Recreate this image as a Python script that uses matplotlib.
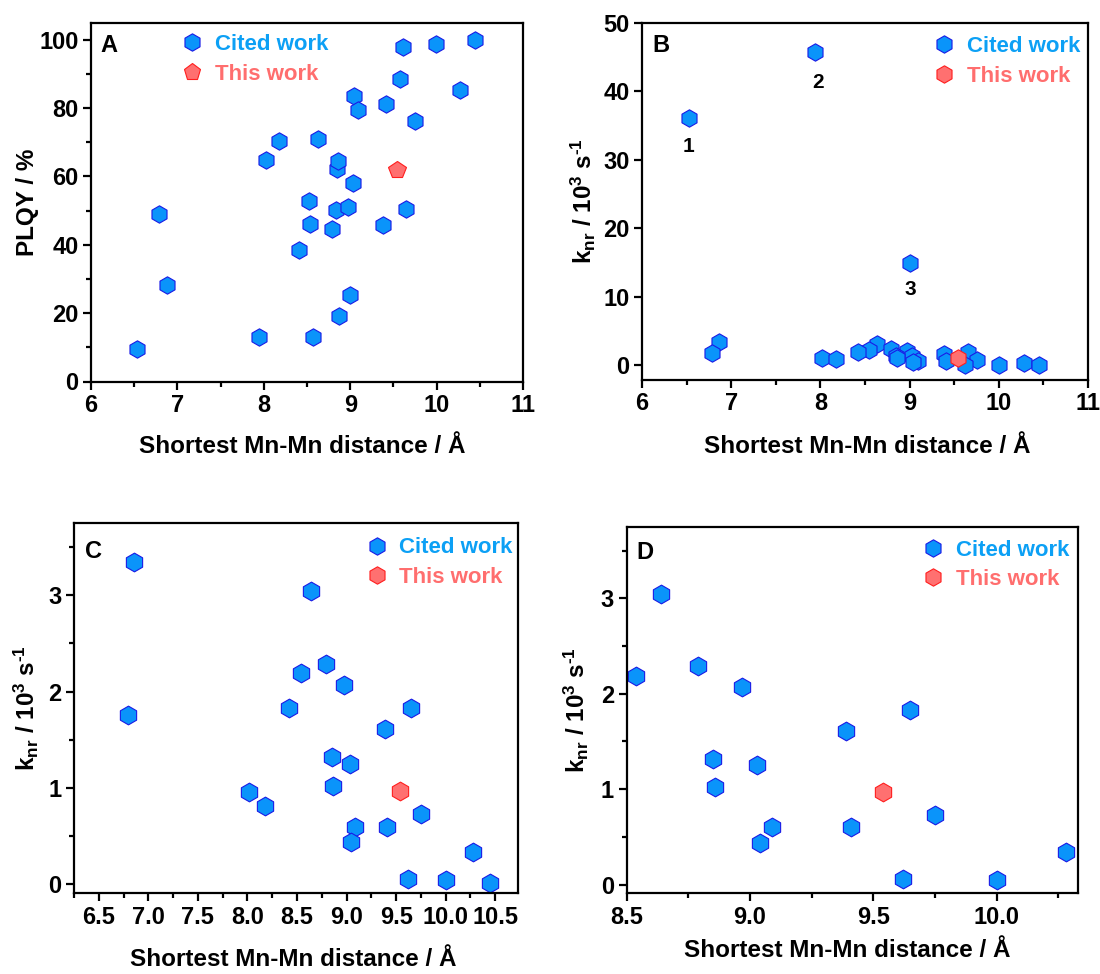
import matplotlib
matplotlib.use("Agg")
import matplotlib.pyplot as plt
from matplotlib.lines import Line2D
from matplotlib.ticker import MultipleLocator, FixedLocator, FormatStrFormatter

plt.rcParams['font.family'] = ['Liberation Sans', 'DejaVu Sans']
plt.rcParams['font.weight'] = 'bold'
plt.rcParams['mathtext.fontset'] = 'custom'
plt.rcParams['mathtext.rm'] = 'Liberation Sans:bold'
plt.rcParams['mathtext.bf'] = 'Liberation Sans:bold'
plt.rcParams['mathtext.it'] = 'Liberation Sans:bold'
plt.rcParams['mathtext.default'] = 'regular'

# ---------------- data ----------------
# Panel A: PLQY vs shortest Mn-Mn distance (cited work)
dist_plqy = [6.53, 6.79, 6.88, 7.94, 8.02, 8.18, 8.41, 8.52, 8.53, 8.57,
             8.63, 8.79, 8.84, 8.85, 8.86, 8.87, 8.97, 9.00, 9.03, 9.04,
             9.09, 9.38, 9.41, 9.58, 9.61, 9.65, 9.75, 9.99, 10.27, 10.44]
plqy = [9.4, 49.0, 28.1, 13.0, 64.7, 70.3, 38.6, 52.7, 46.2, 13.1,
        71.0, 44.6, 50.3, 62.2, 64.5, 19.1, 51.1, 25.4, 58.1, 83.6,
        79.5, 45.9, 81.2, 88.5, 98.0, 50.6, 76.1, 98.7, 85.2, 99.8]

# Panels B-D: k_nr vs distance (cited work)
dist_knr = [6.86, 6.79, 8.64, 8.54, 8.79, 8.97, 8.42, 9.65, 9.39, 8.85,
            9.03, 8.86, 8.02, 8.18, 9.75, 9.09, 9.41, 9.04, 10.28, 9.62,
            10.00, 10.45]
knr = [3.35, 1.76, 3.04, 2.19, 2.29, 2.07, 1.83, 1.83, 1.61, 1.32,
       1.25, 1.02, 0.96, 0.81, 0.73, 0.60, 0.60, 0.44, 0.34, 0.06,
       0.05, 0.01]

# Panel B outliers (labelled 1, 2, 3)
dist_out = [6.53, 7.94, 9.00]
knr_out = [36.1, 45.8, 14.9]
out_labels = ["1", "2", "3"]

# This work
this_dist = [9.54]
this_plqy = [62.0]
this_knr = [0.97]

legend_labels = ["Cited work", "This work"]

# ---------------- styles ----------------
BLUE_FACE = '#0A94FA'
BLUE_EDGE = '#1A1AE6'
RED_FACE = '#FF7070'
RED_EDGE = '#FF1E1E'
BLUE_TXT = '#0CA0F5'
RED_TXT = '#FF6E6E'

W, H = 1100, 974
fig = plt.figure(figsize=(W / 100, H / 100), dpi=100)


def make_ax(l, r, t, b):
    return fig.add_axes([l / W, (H - b) / H, (r - l) / W, (b - t) / H])


axA = make_ax(91, 523, 22.7, 381.5)
axB = make_ax(642, 1088, 23, 380)
axC = make_ax(74, 518, 523, 893)
axD = make_ax(626.5, 1078, 526.7, 893)

TICK_FS = 17
LABEL_FS = 17.5
LEG_FS = 16
knr_label = (r'k$_{\mathregular{nr}}$ / 10$^{\mathregular{3}}$ s$^{\mathregular{'
             + '\u2010' + r'1}}$')
xlab = 'Shortest Mn-Mn distance / Å'


def style(ax):
    for s in ax.spines.values():
        s.set_linewidth(1.6)
    ax.tick_params(which='both', direction='out', top=False, right=False,
                   labelsize=TICK_FS, width=1.6, pad=3)
    ax.tick_params(which='major', length=6)
    ax.tick_params(which='minor', length=3.5)
    for lab in ax.get_xticklabels() + ax.get_yticklabels():
        lab.set_fontweight('bold')


def legend(ax, x, y, second_marker):
    handles = [Line2D([], [], ls='none', marker='h', ms=12.5, mfc=BLUE_FACE,
                      mec=BLUE_EDGE, mew=0.8),
               Line2D([], [], ls='none', marker=second_marker, ms=12.5,
                      mfc=RED_FACE, mec=RED_EDGE, mew=0.8)]
    leg = ax.legend(handles, legend_labels, loc='upper left',
                    bbox_to_anchor=(x, y), frameon=False, handlelength=1.0,
                    handletextpad=0.5, labelspacing=0.38, borderpad=0,
                    borderaxespad=0, numpoints=1,
                    prop={'size': LEG_FS, 'weight': 'bold'})
    for t, c in zip(leg.get_texts(), [BLUE_TXT, RED_TXT]):
        t.set_color(c)


def panel_letter(ax, s, dx, dy):
    ax.annotate(s, xy=(0, 1), xycoords='axes fraction', xytext=(dx, -dy),
                textcoords='offset pixels', ha='left', va='top',
                fontsize=17, fontweight='bold')


def labels(ax, ylabel, ylx, xly, xlx=0.5):
    ax.set_xlabel(xlab, fontsize=LABEL_FS, fontweight='bold')
    ax.set_ylabel(ylabel, fontsize=LABEL_FS, fontweight='bold')
    ax.xaxis.label.set_va('center')
    ax.yaxis.label.set_va('center')
    ax.xaxis.set_label_coords(xlx, xly)
    ax.yaxis.set_label_coords(ylx, 0.5)


# ---- Panel A ----
axA.plot(dist_plqy, plqy, ls='none', marker='h', ms=12.5, mfc=BLUE_FACE,
         mec=BLUE_EDGE, mew=0.8, clip_on=False)
axA.plot(this_dist, this_plqy, ls='none', marker='p', ms=13, mfc=RED_FACE,
         mec=RED_EDGE, mew=0.8, clip_on=False)
axA.set_xlim(6, 11)
axA.set_ylim(0, 105)
axA.xaxis.set_major_locator(MultipleLocator(1))
axA.xaxis.set_minor_locator(MultipleLocator(0.5))
axA.yaxis.set_major_locator(FixedLocator([0, 20, 40, 60, 80, 100]))
axA.yaxis.set_minor_locator(FixedLocator([10, 30, 50, 70, 90]))
style(axA)
labels(axA, 'PLQY / %', -0.148, -0.182, 0.488)
legend(axA, 0.209, 0.968, 'p')
panel_letter(axA, 'A', 9, 11)

# ---- Panel B ----
axB.plot(dist_knr + dist_out, knr + knr_out, ls='none', marker='h', ms=12.5,
         mfc=BLUE_FACE, mec=BLUE_EDGE, mew=0.8, clip_on=False)
axB.plot(this_dist, this_knr, ls='none', marker='h', ms=12.5, mfc=RED_FACE,
         mec=RED_EDGE, mew=0.8, clip_on=False)
for xv, yv, s, off in zip(dist_out, knr_out, out_labels,
                          [(-1, -28), (3, -31), (1, -26)]):
    axB.annotate(s, xy=(xv, yv), xytext=off, textcoords='offset pixels',
                 ha='center', va='center', fontsize=15, fontweight='bold')
axB.set_xlim(6, 11)
axB.set_ylim(-2.2, 50)
axB.xaxis.set_major_locator(MultipleLocator(1))
axB.xaxis.set_minor_locator(MultipleLocator(0.5))
axB.yaxis.set_major_locator(FixedLocator([0, 10, 20, 30, 40, 50]))
style(axB)
labels(axB, knr_label, -0.132, -0.187, 0.504)
legend(axB, 0.653, 0.963, 'h')
panel_letter(axB, 'B', 10, 11)

# ---- Panel C ----
axC.plot(dist_knr, knr, ls='none', marker='h', ms=13.5, mfc=BLUE_FACE,
         mec=BLUE_EDGE, mew=0.8, clip_on=False)
axC.plot(this_dist, this_knr, ls='none', marker='h', ms=13.5, mfc=RED_FACE,
         mec=RED_EDGE, mew=0.8, clip_on=False)
axC.set_xlim(6.25, 10.73)
axC.set_ylim(-0.09, 3.75)
axC.xaxis.set_major_locator(FixedLocator([6.5, 7.0, 7.5, 8.0, 8.5, 9.0, 9.5, 10.0, 10.5]))
axC.xaxis.set_major_formatter(FormatStrFormatter('%.1f'))
axC.xaxis.set_minor_locator(FixedLocator([6.25, 6.75, 7.25, 7.75, 8.25, 8.75, 9.25, 9.75, 10.25]))
axC.yaxis.set_major_locator(FixedLocator([0, 1, 2, 3]))
axC.yaxis.set_minor_locator(FixedLocator([0.5, 1.5, 2.5, 3.5]))
style(axC)
labels(axC, knr_label, -0.106, -0.181, 0.493)
legend(axC, 0.657, 0.961, 'h')
panel_letter(axC, 'C', 11, 17)

# ---- Panel D ----
axD.plot(dist_knr, knr, ls='none', marker='h', ms=13.5, mfc=BLUE_FACE,
         mec=BLUE_EDGE, mew=0.8, clip_on=True)
axD.plot(this_dist, this_knr, ls='none', marker='h', ms=13.5, mfc=RED_FACE,
         mec=RED_EDGE, mew=0.8, clip_on=True)
axD.set_xlim(8.5, 10.33)
axD.set_ylim(-0.088, 3.75)
axD.xaxis.set_major_locator(FixedLocator([8.5, 9.0, 9.5, 10.0]))
axD.xaxis.set_major_formatter(FormatStrFormatter('%.1f'))
axD.xaxis.set_minor_locator(FixedLocator([8.75, 9.25, 9.75, 10.25]))
axD.yaxis.set_major_locator(FixedLocator([0, 1, 2, 3]))
axD.yaxis.set_minor_locator(FixedLocator([0.5, 1.5, 2.5, 3.5]))
style(axD)
labels(axD, knr_label, -0.110, -0.156, 0.49)
legend(axD, 0.655, 0.965, 'h')
panel_letter(axD, 'D', 10, 14)

fig.savefig('out.png', dpi=100)
